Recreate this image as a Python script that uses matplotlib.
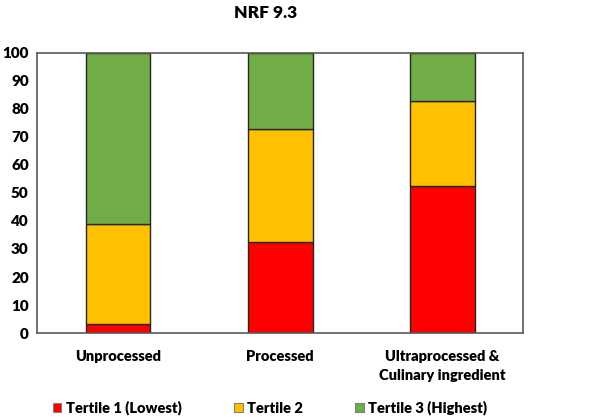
import matplotlib
matplotlib.use("Agg")
import matplotlib.pyplot as plt
import numpy as np

categories = ["Unprocessed", "Processed", "Ultraprocessed &\nCulinary ingredient"]
tertile1 = [3.2, 32.4, 52.4]
tertile2 = [35.8, 40.3, 30.3]
tertile3 = [61.0, 27.3, 17.3]
series_names = ["Tertile 1 (Lowest)", "Tertile 2", "Tertile 3 (Highest)"]
colors = ["#FF0000", "#FFC000", "#70AD47"]

plt.rcParams['font.family'] = ['Lato', 'DejaVu Sans']
plt.rcParams['font.weight'] = 'heavy'

fig = plt.figure(figsize=(6, 4.17), dpi=100)
ax = fig.add_axes([0.0617, 0.2014, 0.8103, 0.6716])

x = np.arange(len(categories))
bottom = np.zeros(len(categories))
for vals, name, c in zip([tertile1, tertile2, tertile3], series_names, colors):
    ax.bar(x, vals, width=0.4, bottom=bottom, color=c, edgecolor="#262626",
           linewidth=1.0, label=name)
    bottom += np.array(vals)

ax.set_xlim(-0.5, 2.5)
ax.set_ylim(0, 100)
ax.set_yticks(range(0, 101, 10))
ax.set_xticks(x)
ax.set_xticklabels(categories, fontsize=10.5, fontweight='heavy', linespacing=1.6)
ax.tick_params(axis='y', length=0, labelsize=11, pad=6)
ax.tick_params(axis='x', length=0, pad=12)
for s in ax.spines.values():
    s.set_color("#595959")
    s.set_linewidth(1.2)

fig.text(266 / 600, 1 - 13 / 417, "NRF 9.3", ha='center', va='center',
         fontsize=12.5, fontweight='heavy')

leg = fig.legend(loc='center', bbox_to_anchor=(270 / 600, 1 - 408 / 417), ncol=3,
                 frameon=False, fontsize=10.5, handlelength=0.6, handleheight=0.6,
                 columnspacing=3.6, handletextpad=0.3)
for h in leg.legend_handles:
    h.set_edgecolor("#7f7f7f")
    h.set_linewidth(0.8)

fig.savefig("out.png", dpi=100)
